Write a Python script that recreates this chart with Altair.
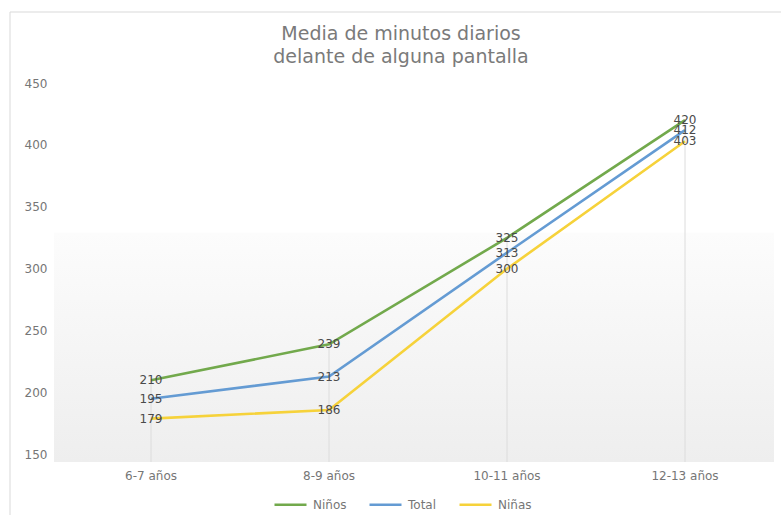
import altair as alt
import pandas as pd

# Average daily minutes in front of a screen, by age group
categories = ["6-7 años", "8-9 años", "10-11 años", "12-13 años"]
ninos = [210, 239, 325, 420]
total = [195, 213, 313, 412]
ninas = [179, 186, 300, 403]
series = ["Niños", "Total", "Niñas"]
colors = ["#72A94C", "#649BD3", "#F6D23A"]
y_ticks = [150, 200, 250, 300, 350, 400, 450]
title_lines = ["Media de minutos diarios", "delante de alguna pantalla"]

FONT = "DejaVu Sans"
TEXT_GREY = "#767676"
W, H = 712, 379
Y_MIN, Y_MAX = 144, 450

rows = []
for name, vals in zip(series, [ninos, total, ninas]):
    for cat, v in zip(categories, vals):
        rows.append({"edad": cat, "serie": name, "minutos": v})
df = pd.DataFrame(rows)

drops = pd.DataFrame({
    "edad": categories,
    "tope": [max(a, b, c) for a, b, c in zip(ninos, total, ninas)],
})

x_enc = alt.X(
    "edad:N",
    sort=categories,
    scale=alt.Scale(type="band", paddingInner=0, paddingOuter=0),
    axis=alt.Axis(
        title=None, domain=False, ticks=False, grid=False, labelAngle=0,
        labelFont=FONT, labelFontSize=12, labelColor=TEXT_GREY, labelPadding=8,
    ),
)
y_scale = alt.Scale(domain=[Y_MIN, Y_MAX], nice=False, zero=False)
y_enc = alt.Y(
    "minutos:Q",
    scale=y_scale,
    axis=alt.Axis(
        title=None, values=y_ticks, domain=False, ticks=False, grid=False,
        labelFont=FONT, labelFontSize=12, labelColor=TEXT_GREY, labelPadding=15,
    ),
)

# soft grey band behind the lower part of the plot
band = alt.Chart(pd.DataFrame({"a": [0]})).mark_rect(
    color=alt.Gradient(
        gradient="linear",
        stops=[alt.GradientStop(color="#fcfcfc", offset=0),
               alt.GradientStop(color="#eeeeee", offset=1)],
        x1=0, x2=0, y1=0, y2=1,
    )
).encode(
    x=alt.value(-8), x2=alt.value(W),
    y=alt.datum(329, scale=y_scale), y2=alt.datum(Y_MIN),
)

# outer chart frame
frame = alt.Chart(pd.DataFrame({"a": [0]})).mark_rect(
    filled=False, stroke="#d9d9d9", strokeWidth=1
).encode(
    x=alt.value(-52), x2=alt.value(W + 60),
    y=alt.value(-71), y2=alt.value(H + 80),
)

# two-line chart heading
heading = alt.Chart(
    pd.DataFrame({"linea": title_lines, "dy": [-49, -26]})
).mark_text(
    font=FONT, fontSize=19, color="#7a7a7a", align="center", baseline="middle"
).encode(
    x=alt.value(W / 2 - 17),
    y=alt.Y("dy:Q", scale=None),
    text="linea:N",
)

drop_lines = alt.Chart(drops).mark_rule(color="#dcdcdc", strokeWidth=1).encode(
    x=x_enc,
    y=alt.Y("tope:Q", scale=y_scale),
    y2=alt.datum(Y_MIN),
)

lines = alt.Chart(df).mark_line(strokeWidth=2.6).encode(
    x=x_enc,
    y=y_enc,
    color=alt.Color(
        "serie:N",
        scale=alt.Scale(domain=series, range=colors),
        legend=alt.Legend(
            title=None, orient="none", direction="horizontal",
            legendX=211, legendY=404,
            symbolType="stroke", symbolSize=1024, symbolStrokeWidth=2.6,
            labelFont=FONT, labelFontSize=12, labelColor=TEXT_GREY,
            labelOffset=5, columnPadding=17,
        ),
    ),
)

labels = alt.Chart(df).mark_text(
    font=FONT, fontSize=12, color="#4a4a4a", align="center", baseline="middle"
).encode(
    x=x_enc,
    y=alt.Y("minutos:Q", scale=y_scale),
    text="minutos:Q",
)

chart = alt.layer(frame, band, drop_lines, lines, labels, heading).properties(
    width=W,
    height=H,
    autosize="none",
    padding={"left": 62, "top": 83, "right": 7, "bottom": 53},
    background="white",
).configure_view(stroke=None)

chart.save("out.html", embed_options={"renderer": "svg", "actions": False})
